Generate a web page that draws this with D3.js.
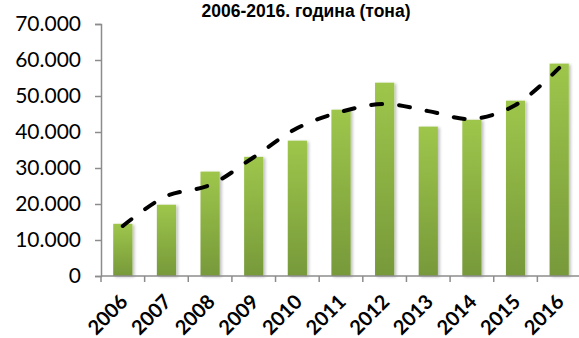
<!DOCTYPE html>
<html>
<head>
<meta charset="utf-8">
<script src="https://cdn.jsdelivr.net/npm/d3@7"></script>
<style>
  html, body { margin: 0; padding: 0; background: #fff; overflow: hidden; }
  svg { display: block; }
</style>
</head>
<body>
<svg id="chart" width="579" height="338"></svg>
<script>
const years = ["2006","2007","2008","2009","2010","2011","2012","2013","2014","2015","2016"];
const values = [14500, 19800, 29000, 33100, 37600, 46200, 53700, 41500, 43400, 48700, 59000];
const trendValues = [13900, 22200, 25300, 33000, 41100, 45600, 47800, 45800, 43600, 47500, 57800];
const yTicks = [0, 10000, 20000, 30000, 40000, 50000, 60000, 70000];
const titleText = "2006-2016. година (тона)";

const svg = d3.select("#chart");

const x = d3.scaleBand().domain(years).range([101, 581]).paddingInner(0.56).paddingOuter(0.28);
const y = d3.scaleLinear().domain([0, 70000]).range([276, 24]);

const fmt = v => v === 0 ? "0" : d3.format(",")(v).replace(/,/g, ".");

const defs = svg.append("defs");
const grad = defs.append("linearGradient").attr("id", "barGrad")
  .attr("x1", 0).attr("y1", 0).attr("x2", 0).attr("y2", 1);
grad.append("stop").attr("offset", "0%").attr("stop-color", "#9ec64b");
grad.append("stop").attr("offset", "100%").attr("stop-color", "#77993a");
const shadow = defs.append("filter").attr("id", "sh").attr("x", "-30%").attr("y", "-10%").attr("width", "160%").attr("height", "120%");
shadow.append("feGaussianBlur").attr("in", "SourceAlpha").attr("stdDeviation", 1.5).attr("result", "b");
shadow.append("feOffset").attr("in", "b").attr("dx", 1.5).attr("dy", 0.5).attr("result", "o");
shadow.append("feComponentTransfer").attr("in", "o").attr("result", "o2")
  .append("feFuncA").attr("type", "linear").attr("slope", 0.25);
const m = shadow.append("feMerge");
m.append("feMergeNode").attr("in", "o2");
m.append("feMergeNode").attr("in", "SourceGraphic");

// title
svg.append("text")
  .attr("x", 306).attr("y", 17)
  .attr("text-anchor", "middle")
  .attr("font-family", "'Liberation Sans', Arial, sans-serif")
  .attr("font-weight", "bold")
  .attr("font-size", 17.5)
  .attr("fill", "#000")
  .text(titleText);

// bars
svg.append("g").selectAll("rect").data(years).join("rect")
  .attr("x", d => x(d))
  .attr("y", (d, i) => y(values[i]))
  .attr("width", x.bandwidth())
  .attr("height", (d, i) => y(0) - y(values[i]))
  .attr("fill", "url(#barGrad)")
  .attr("filter", "url(#sh)");

// y axis
const yAxis = d3.axisLeft(y).tickValues(yTicks).tickFormat(fmt).tickSize(6).tickPadding(14);
const gy = svg.append("g").attr("transform", "translate(101,0)").call(yAxis);
gy.select(".domain").attr("stroke", "#8c8c8c").attr("stroke-width", 1.5);
gy.selectAll(".tick line").attr("stroke", "#8c8c8c").attr("stroke-width", 1.5);
gy.selectAll(".tick text")
  .attr("font-family", "Lato, 'Open Sans', sans-serif")
  .attr("font-size", 21)
  .attr("fill", "#000");

// x axis
const xAxis = d3.axisBottom(x).tickSize(0).tickFormat(d => d);
const gx = svg.append("g").attr("transform", "translate(0,276)").call(xAxis);
gx.select(".domain").remove();
gx.append("line").attr("x1", 101).attr("x2", 581).attr("y1", 0).attr("y2", 0)
  .attr("stroke", "#8c8c8c").attr("stroke-width", 1.5);
gx.selectAll(".sep").data(d3.range(years.length + 1)).join("line")
  .attr("class", "sep")
  .attr("x1", i => 101 + i * (480 / years.length))
  .attr("x2", i => 101 + i * (480 / years.length))
  .attr("y1", 0).attr("y2", 6)
  .attr("stroke", "#8c8c8c").attr("stroke-width", 1.5);
gx.selectAll(".tick text")
  .attr("font-family", "Lato, 'Open Sans', sans-serif")
  .attr("font-weight", "bold")
  .attr("font-size", 20)
  .attr("fill", "#000")
  .attr("text-anchor", "end")
  .attr("dy", 0)
  .attr("transform", "translate(4,25) rotate(-45)");

// trend line
const line = d3.line()
  .x((d, i) => x(years[i]) + x.bandwidth() / 2)
  .y(d => y(d))
  .curve(d3.curveCatmullRom.alpha(0.5));
svg.append("path")
  .datum(trendValues)
  .attr("d", line)
  .attr("fill", "none")
  .attr("stroke", "#000")
  .attr("stroke-width", 4)
  .attr("stroke-linecap", "round")
  .attr("stroke-dasharray", "11,17");
</script>
</body>
</html>
